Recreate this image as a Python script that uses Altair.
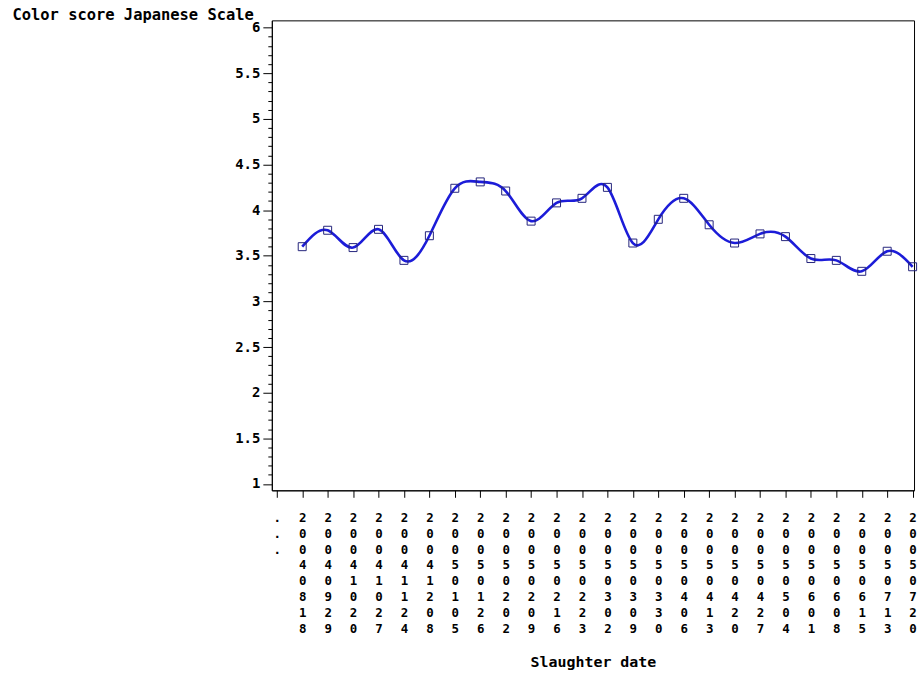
import altair as alt
import pandas as pd

# Slaughter dates (x categories) and colour scores (y values)
dates = ["20040818", "20040929", "20041020", "20041027", "20041124", "20041208",
         "20050105", "20050126", "20050202", "20050209", "20050216", "20050223",
         "20050302", "20050309", "20050330", "20050406", "20050413", "20050420",
         "20050427", "20050504", "20050601", "20050608", "20050615", "20050713",
         "20050720"]
scores = [3.60, 3.78, 3.59, 3.79, 3.45, 3.72, 4.24, 4.31, 4.21, 3.88, 4.08, 4.13,
          4.25, 3.64, 3.90, 4.13, 3.84, 3.64, 3.74, 3.71, 3.47, 3.45, 3.33, 3.55,
          3.38]
x_categories = ["."] + dates
y_ticks = [round(1 + 0.1 * i, 1) for i in range(51)]

df = pd.DataFrame({"date": dates, "score": scores})

FONT = "DejaVu Sans Mono"
major_test = "abs(datum.value*2 - round(datum.value*2)) < 0.001"

x_axis = alt.Axis(
    title="Slaughter date",
    labelExpr="datum.label == '.' ? ['.', '.', '.'] : split(datum.label, '')",
    labelAngle=0,
    labelLineHeight=16,
    labelFont=FONT,
    labelFontWeight="bold",
    labelFontSize=12.5,
    labelPadding=14,
    labelOverlap=False,
    tickSize=7,
    titleFont=FONT,
    titleFontSize=15,
    titleFontWeight="bold",
    titleY=172,
    titleBaseline="middle",
    grid=False,
)

y_axis = alt.Axis(
    title="Color score Japanese Scale",
    values=y_ticks,
    labelExpr=major_test + " ? format(datum.value, '~g') : ''",
    tickSize={"condition": {"test": major_test, "value": 9}, "value": 4},
    labelPadding=3,
    labelFont=FONT,
    labelFontWeight="bold",
    labelFontSize=14,
    labelOverlap=False,
    titleAngle=0,
    titleX=-261,
    titleY=-6,
    titleAlign="left",
    titleBaseline="middle",
    titleFont=FONT,
    titleFontSize=15.5,
    titleFontWeight="bold",
    grid=False,
)

base = alt.Chart(df).encode(
    x=alt.X("date:O",
            scale=alt.Scale(type="point", domain=x_categories, padding=0.125, align=0.78),
            axis=x_axis),
    y=alt.Y("score:Q",
            scale=alt.Scale(domain=[0.93, 6.08], nice=False, zero=False),
            axis=y_axis),
)

line = base.mark_line(interpolate="natural", color="#1c1cd8", strokeWidth=2.6)
pts = base.mark_point(shape="square", size=64, filled=False, color="#24247c",
                      strokeWidth=1, opacity=1)

chart = (line + pts).properties(
    width=645, height=472,
    padding={"left": 12, "top": 6, "right": 0, "bottom": 0},
    background="white",
).configure_view(stroke="black", strokeWidth=1).configure_axis(
    domainColor="black", tickColor="black", labelColor="black", titleColor="black"
)

chart.save("out.html", embed_options={"renderer": "svg", "actions": False})
